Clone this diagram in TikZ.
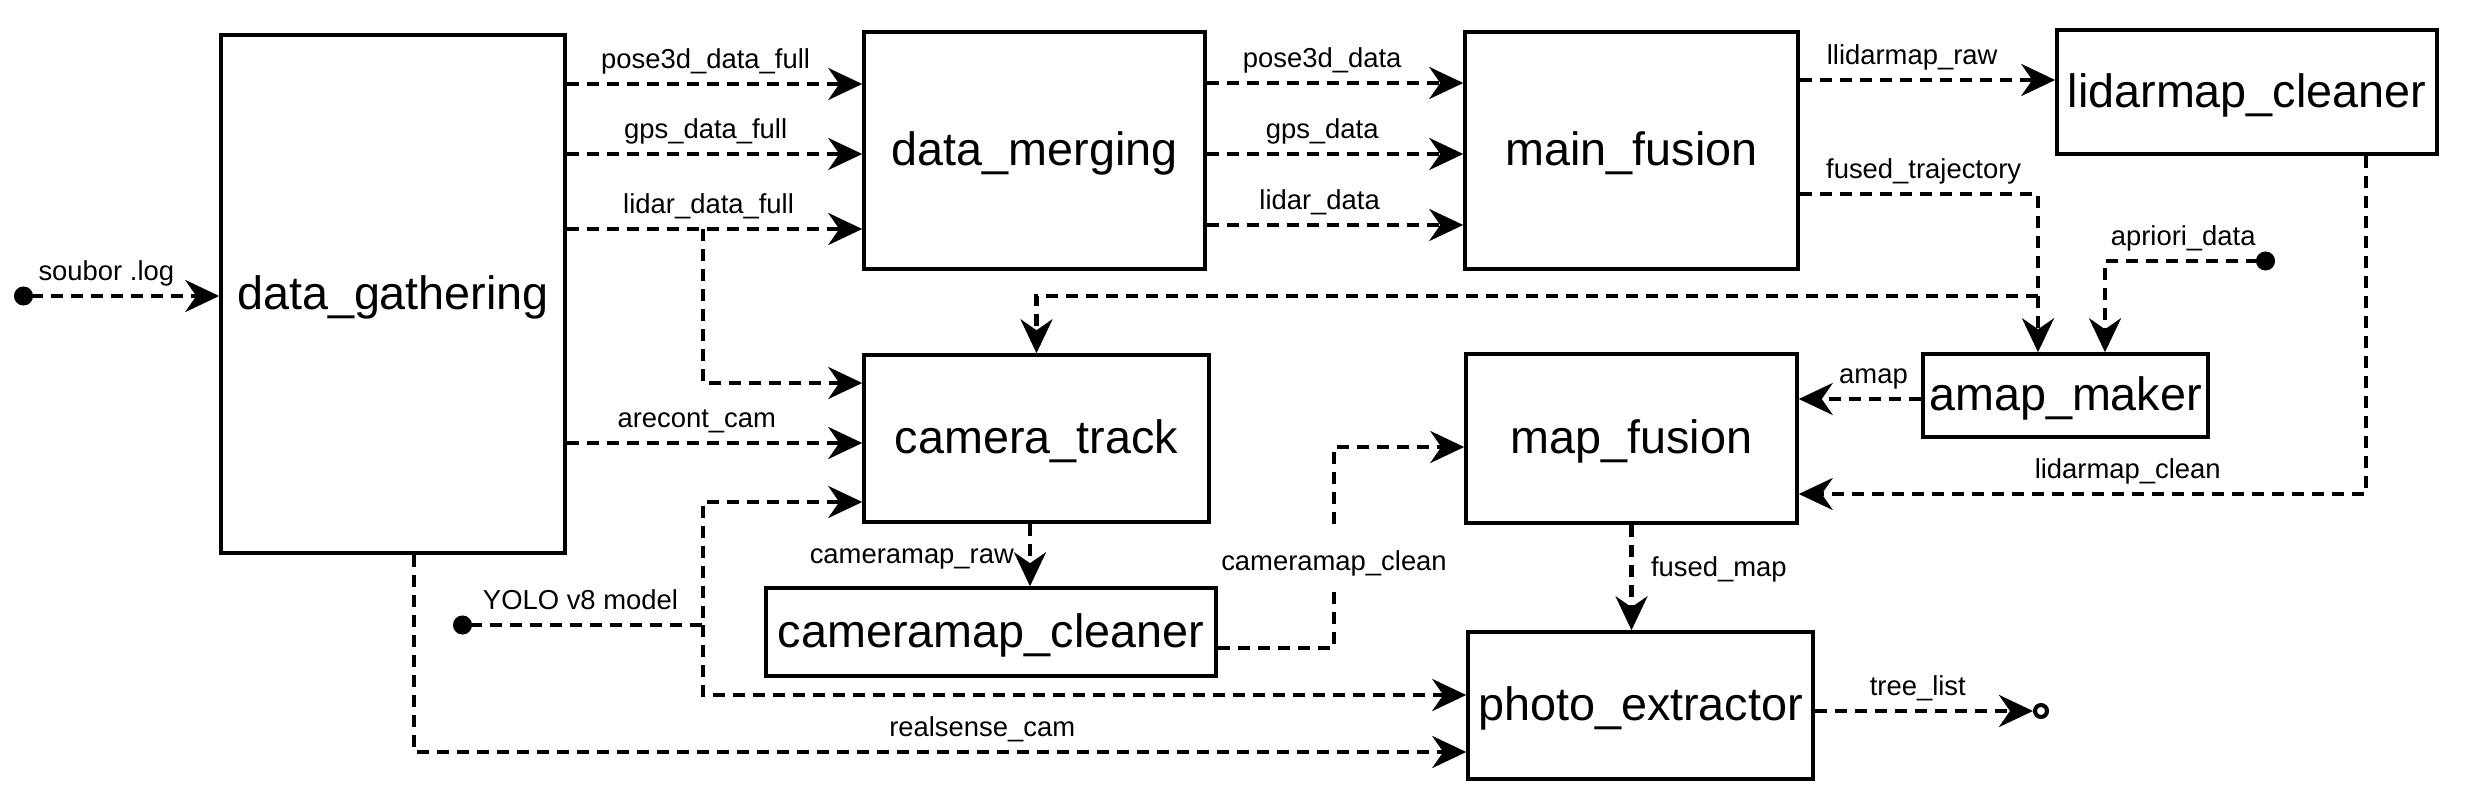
\documentclass[tikz,border=0pt]{standalone}
\usepackage{fontspec}
\setmainfont{Liberation Sans}
\usetikzlibrary{arrows.meta}
\tikzset{
  >={Stealth[length=3.4mm,width=3.2mm,inset=1.1mm]},
  box/.style={draw, line width=1pt, inner sep=0pt, text height=12pt, text depth=3.2pt, font=\fontsize{13.3}{16}\selectfont},
  lab/.style={font=\fontsize{7.8}{9}\selectfont, inner sep=1pt, text height=7.5pt, text depth=2.5pt},
  flow/.style={line width=1.15pt, dash pattern=on 1.2mm off 0.8mm, ->},
  dotstart/.style={{Circle[length=1.9mm]}->}
}
\begin{document}
\begin{tikzpicture}[x=0.1mm,y=-0.1mm]
\path[use as bounding box, fill=white] (0,0) rectangle (2477,802);

\node[box, minimum width=34.4mm, minimum height=51.8mm] (gather) at (393,294) {data\_gathering};
\node[box, minimum width=34.1mm, minimum height=23.7mm] (merge) at (1034.5,150.5) {data\_merging};
\node[box, minimum width=33.3mm, minimum height=23.7mm] (fusion) at (1631.5,150.5) {main\_fusion};
\node[box, minimum width=38.0mm, minimum height=12.4mm] (lidcl) at (2247,92) {lidarmap\_cleaner};
\node[box, minimum width=34.5mm, minimum height=16.7mm] (cam) at (1036.5,438.5) {camera\_track};
\node[box, minimum width=33.1mm, minimum height=16.9mm] (mapf) at (1631.5,438.5) {map\_fusion};
\node[box, minimum width=28.5mm, minimum height=8.3mm] (amap) at (2065.5,395.5) {amap\_maker};
\node[box, minimum width=45.0mm, minimum height=8.8mm] (camcl) at (991,632) {cameramap\_cleaner};
\node[box, minimum width=34.5mm, minimum height=14.7mm] (photo) at (1640.5,705.5) {photo\_extractor};

\coordinate (logsrc) at (14,296);
\coordinate (yolo) at (453,625);
\coordinate (yolosplit) at (703,625);
\coordinate (lidarsplit) at (703,229);
\coordinate (trajsplit) at (2038,296);
\coordinate (apriori) at (2275,261);
\coordinate (treeout) at (2049,711);

\draw[flow, dotstart] (logsrc) -- node[lab, above=0.3pt, pos=0.45] {soubor .log} (gather.west |- logsrc);

\draw[flow] (gather.east |- 0,84) -- node[lab, above=0.3pt, pos=0.47] {pose3d\_data\_full} (merge.west |- 0,84);
\draw[flow] (gather.east |- 0,154) -- node[lab, above=0.3pt, pos=0.47] {gps\_data\_full} (merge.west |- 0,154);
\draw[flow] (gather.east |- 0,229) -- node[lab, above=0.3pt, pos=0.48] {lidar\_data\_full} (merge.west |- 0,229);
\draw[flow] (lidarsplit) |- (cam.west |- 0,383);
\draw[flow] (gather.east |- 0,443) -- node[lab, above=0.3pt, pos=0.44] {arecont\_cam} (cam.west |- 0,443);
\draw[flow, dotstart] (yolo) -- node[lab, above=0.3pt, pos=0.51] {YOLO v8 model} (yolosplit) |- (cam.west |- 0,502);
\draw[flow] (yolosplit) |- (photo.west |- 0,695);
\draw[flow] (414,0 |- gather.south) |- node[lab, above=0.3pt, pos=0.77] {realsense\_cam} (photo.west |- 0,752);

\draw[flow] (merge.east |- 0,83) -- node[lab, above=0.3pt, pos=0.45] {pose3d\_data} (fusion.west |- 0,83);
\draw[flow] (merge.east |- 0,154) -- node[lab, above=0.3pt, pos=0.45] {gps\_data} (fusion.west |- 0,154);
\draw[flow] (merge.east |- 0,225) -- node[lab, above=0.3pt, pos=0.44] {lidar\_data} (fusion.west |- 0,225);

\draw[flow] (fusion.east |- 0,80) -- node[lab, above=0.3pt, pos=0.44] {llidarmap\_raw} (lidcl.west |- 0,80);
\draw[flow] (fusion.east |- 0,194) -| node[lab, above=0.3pt, pos=0.26] {fused\_trajectory} (trajsplit |- amap.north);
\draw[flow] (trajsplit) -| (cam.north);
\draw[flow, dotstart] (apriori) -| node[lab, above=0.3pt, pos=0.27] {apriori\_data} (2105,0 |- amap.north);
\draw[flow] (amap.west |- 0,399) -- node[lab, above=0.3pt, pos=0.39] {amap} (mapf.east |- 0,399);
\draw[flow] (2366,0 |- lidcl.south) |- node[lab, above=0.3pt, pos=0.71] {lidarmap\_clean} (mapf.east |- 0,494);

\draw[flow] (1030,0 |- cam.south) -- node[lab, left=3pt, pos=0.5] {cameramap\_raw} (1030,0 |- camcl.north);
\draw[flow] (camcl.east |- 0,648) -- (1334,648) -- node[lab, fill=white, inner ysep=1.2mm, pos=0.43] {cameramap\_clean} (1334,447) -- (mapf.west |- 0,447);
\draw[flow] (mapf.south) -- node[lab, right=4pt, pos=0.41] {fused\_map} (mapf.south |- photo.north);
\draw[flow, -{Stealth[length=3.4mm,width=3.2mm,inset=1.1mm] Circle[open,length=1.6mm]}] (photo.east |- 0,711) -- node[lab, above=0.3pt, pos=0.44] {tree\_list} (treeout);
\end{tikzpicture}
\end{document}
